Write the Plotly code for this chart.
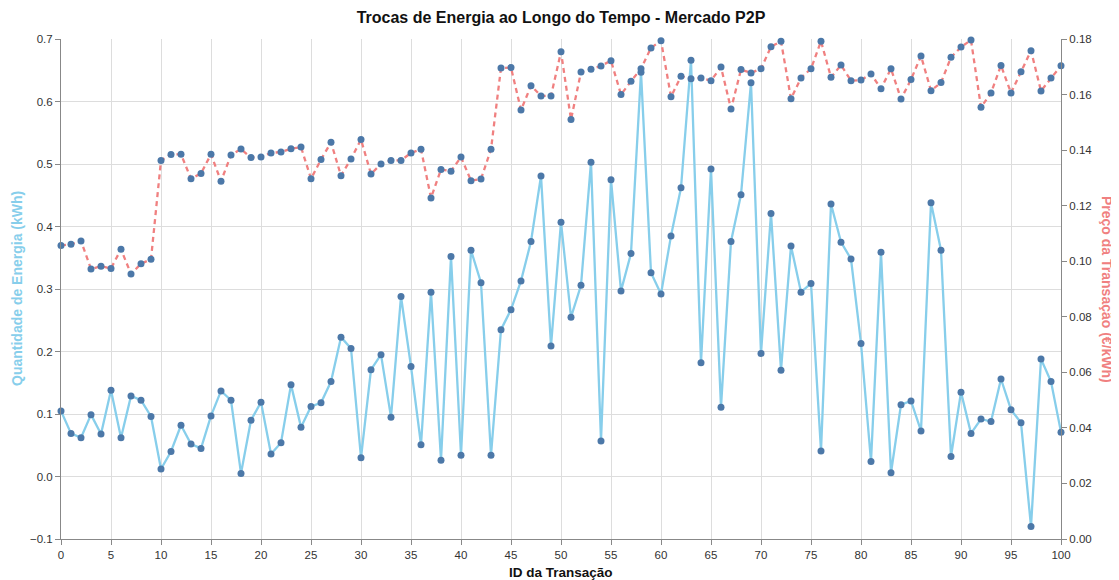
import plotly.graph_objects as go

# Transaction IDs
transaction_id = list(range(0, 101))

# Energy quantity (kWh)
energy_kwh = [
    0.105, 0.069, 0.062, 0.099, 0.068, 0.138, 0.062, 0.129, 0.122, 0.096,
    0.012, 0.040, 0.082, 0.052, 0.045, 0.097, 0.137, 0.122, 0.005, 0.090,
    0.119, 0.036, 0.054, 0.147, 0.079, 0.112, 0.118, 0.152, 0.223, 0.205,
    0.030, 0.171, 0.195, 0.095, 0.288, 0.176, 0.051, 0.295, 0.026, 0.352,
    0.034, 0.362, 0.310, 0.034, 0.235, 0.267, 0.313, 0.376, 0.481, 0.209,
    0.407, 0.255, 0.306, 0.503, 0.057, 0.475, 0.297, 0.357, 0.647, 0.326,
    0.292, 0.385, 0.462, 0.666, 0.182, 0.492, 0.111, 0.376, 0.451, 0.630,
    0.197, 0.421, 0.170, 0.369, 0.295, 0.309, 0.041, 0.436, 0.375, 0.348,
    0.213, 0.024, 0.359, 0.006, 0.115, 0.121, 0.073, 0.438, 0.362, 0.032,
    0.135, 0.069, 0.092, 0.088, 0.156, 0.107, 0.086, -0.080, 0.188, 0.152,
    0.071,
]

# Transaction price (EUR/kWh)
price_eur_kwh = [
    0.1057, 0.1061, 0.1073, 0.0972, 0.0982, 0.0974, 0.1043, 0.0954, 0.0991, 0.1007,
    0.1363, 0.1384, 0.1385, 0.1297, 0.1316, 0.1385, 0.1288, 0.1382, 0.1404, 0.1373,
    0.1375, 0.1390, 0.1393, 0.1405, 0.1411, 0.1297, 0.1366, 0.1428, 0.1308, 0.1368,
    0.1438, 0.1314, 0.1350, 0.1363, 0.1363, 0.1390, 0.1403, 0.1228, 0.1330, 0.1324,
    0.1375, 0.1290, 0.1296, 0.1403, 0.1696, 0.1697, 0.1544, 0.1632, 0.1595, 0.1595,
    0.1754, 0.1510, 0.1681, 0.1691, 0.1703, 0.1722, 0.1600, 0.1648, 0.1693, 0.1768,
    0.1794, 0.1592, 0.1666, 0.1657, 0.1660, 0.1650, 0.1699, 0.1548, 0.1690, 0.1678,
    0.1693, 0.1772, 0.1792, 0.1585, 0.1660, 0.1693, 0.1792, 0.1662, 0.1706, 0.1650,
    0.1652, 0.1674, 0.1621, 0.1693, 0.1584, 0.1654, 0.1739, 0.1614, 0.1643, 0.1734,
    0.1771, 0.1796, 0.1554, 0.1606, 0.1705, 0.1606, 0.1682, 0.1758, 0.1613, 0.1660,
    0.1704,
]

title_text = "Trocas de Energia ao Longo do Tempo - Mercado P2P"
x_title = "ID da Transação"
y_title = "Quantidade de Energia (kWh)"
y2_title = "Preço da Transação (€/kWh)"

energy_color = "#87CEEB"
price_color = "#F08080"
point_color = "#4C78A8"
font_family = "Liberation Sans, Arial, sans-serif"

fig = go.Figure()
fig.add_trace(go.Scatter(
    x=transaction_id, y=energy_kwh, mode="lines+markers",
    line=dict(color=energy_color, width=2.3),
    marker=dict(color=point_color, size=7),
    cliponaxis=False, yaxis="y", name="Energia",
))
fig.add_trace(go.Scatter(
    x=transaction_id, y=price_eur_kwh, mode="lines+markers",
    line=dict(color=price_color, width=2.3, dash="5px,4px"),
    marker=dict(color=point_color, size=7),
    cliponaxis=False, yaxis="y2", name="Preço",
))

axis_common = dict(
    showline=True, linecolor="#888", linewidth=1,
    ticks="outside", ticklen=5, tickcolor="#888", tickwidth=1,
    tickfont=dict(family=font_family, size=11.5, color="#333"),
    zeroline=False, automargin=False,
)

# page body adds 8px offset; plot area = 1000x500 at (61, 39) on the page
fig.update_layout(
    width=1111, height=572,
    margin=dict(l=53, r=58, t=31, b=41, autoexpand=False),
    paper_bgcolor="white", plot_bgcolor="white",
    showlegend=False,
    font=dict(family=font_family),
    title=dict(
        text=title_text, x=0.5, xref="paper", y=1 - 9 / 572, yref="container",
        xanchor="center", yanchor="middle",
        font=dict(family=font_family, size=16, color="#111", weight="bold"),
    ),
    xaxis=dict(
        range=[0, 100], tick0=0, dtick=5, showgrid=True, gridcolor="#ddd",
        **axis_common,
    ),
    yaxis=dict(
        range=[-0.1, 0.7], tick0=-0.1, dtick=0.1, tickformat=".1f",
        showgrid=True, gridcolor="#ddd", **axis_common,
    ),
    yaxis2=dict(
        range=[0, 0.18], tick0=0, dtick=0.02, tickformat=".2f",
        overlaying="y", side="right", showgrid=False, **axis_common,
    ),
    annotations=[
        dict(text=x_title, xref="paper", yref="paper", x=0.5, y=-(572 - 539) / 500,
             xanchor="center", yanchor="middle", showarrow=False,
             font=dict(family=font_family, size=13.5, color="#111", weight="bold")),
        dict(text=y_title, xref="paper", yref="paper", x=(17 - 61) / 1000, y=0.5,
             xanchor="center", yanchor="middle", showarrow=False, textangle=-90,
             font=dict(family=font_family, size=14, color=energy_color, weight="bold")),
        dict(text=y2_title, xref="paper", yref="paper", x=(1107 - 61) / 1000, y=0.5,
             xanchor="center", yanchor="middle", showarrow=False, textangle=90,
             font=dict(family=font_family, size=14, color=price_color, weight="bold")),
    ],
)

fig.write_html("out.html")
